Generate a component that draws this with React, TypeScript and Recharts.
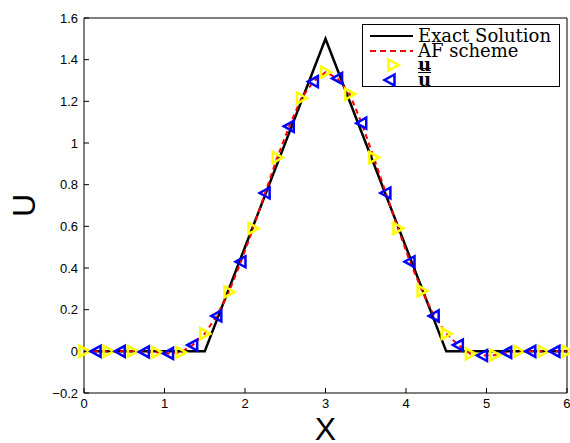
import { ComposedChart, Line, Scatter, XAxis, YAxis, Legend } from "recharts";

// exact solution: hat function
const exactX = [0, 1.5, 3, 4.5, 6];
const exactU = [0, 0, 1.5, 0, 0];

// u (yellow, right triangles) sampled at 0, 0.3, ..., 6
const uX = [0, 0.3, 0.6, 0.9, 1.2, 1.5, 1.8, 2.1, 2.4, 2.7, 3.0, 3.3, 3.6, 3.9, 4.2, 4.5, 4.8, 5.1, 5.4, 5.7, 6.0];
const uVals = [0, 0, 0, -0.005, -0.005, 0.085, 0.285, 0.59, 0.93, 1.215, 1.34, 1.235, 0.93, 0.59, 0.29, 0.085, -0.012, -0.018, 0, 0, 0];

// u-bar (blue, left triangles) sampled at 0.15, 0.45, ..., 5.85
const ubarX = [0.15, 0.45, 0.75, 1.05, 1.35, 1.65, 1.95, 2.25, 2.55, 2.85, 3.15, 3.45, 3.75, 4.05, 4.35, 4.65, 4.95, 5.25, 5.55, 5.85];
const ubarVals = [0, 0, -0.003, -0.01, 0.03, 0.17, 0.43, 0.76, 1.08, 1.295, 1.31, 1.095, 0.76, 0.43, 0.17, 0.03, -0.02, -0.005, 0, 0];

const xTicks = [0, 1, 2, 3, 4, 5, 6];
const yTicks = [-0.2, 0, 0.2, 0.4, 0.6, 0.8, 1, 1.2, 1.4, 1.6];

const exactData = exactX.map((x, i) => ({ x, u: exactU[i] }));
const uData = uX.map((x, i) => ({ x, u: uVals[i] }));
const ubarData = ubarX.map((x, i) => ({ x, u: ubarVals[i] }));
// AF scheme curve runs through both sets of samples
const afData = [...uData, ...ubarData].sort((a, b) => a.x - b.x);

const tickFont = { fontSize: 13, fontFamily: "Liberation Sans, Arial", fill: "#000" };
const fmt = (v: number) => String(v).replace("-", "\u2212");

const RightTri = (props: any) => {
  const { cx, cy } = props;
  return (
    <polygon
      points={`${cx - 4.5},${cy - 5.5} ${cx - 4.5},${cy + 5.5} ${cx + 5.5},${cy}`}
      fill="none"
      stroke="#ffff00"
      strokeWidth={2.5}
    />
  );
};

const LeftTri = (props: any) => {
  const { cx, cy } = props;
  return (
    <polygon
      points={`${cx + 4.5},${cy - 5.5} ${cx + 4.5},${cy + 5.5} ${cx - 5.5},${cy}`}
      fill="none"
      stroke="#0000ff"
      strokeWidth={2.5}
    />
  );
};

const Empty = () => <g />;

const renderLegend = () => {
  const rowTops = [3, 18, 32, 47];
  const text = { fontFamily: "DejaVu Serif, serif", fontSize: 18, lineHeight: "15px", color: "#000" };
  return (
    <div
      style={{
        position: "relative",
        width: 198,
        height: 63,
        border: "1px solid #000",
        background: "#fff",
        boxSizing: "border-box",
      }}
    >
      <div style={{ position: "absolute", top: rowTops[0], left: 0, height: 15, display: "flex", alignItems: "center" }}>
        <svg width={55} height={15}>
          <line x1={7} x2={50} y1={8} y2={8} stroke="#000" strokeWidth={2} />
        </svg>
        <span style={text}>Exact Solution</span>
      </div>
      <div style={{ position: "absolute", top: rowTops[1], left: 0, height: 15, display: "flex", alignItems: "center" }}>
        <svg width={55} height={15}>
          <line x1={7} x2={50} y1={8} y2={8} stroke="#ff0000" strokeWidth={2} strokeDasharray="6 4" />
        </svg>
        <span style={text}>AF scheme</span>
      </div>
      <div style={{ position: "absolute", top: rowTops[2], left: 0, height: 15, display: "flex", alignItems: "center" }}>
        <svg width={55} height={15}>
          <RightTri cx={30} cy={8} />
        </svg>
        <span style={{ ...text, fontWeight: "bold", textDecoration: "underline" }}>u</span>
      </div>
      <div style={{ position: "absolute", top: rowTops[3], left: 0, height: 15, display: "flex", alignItems: "center" }}>
        <svg width={55} height={15}>
          <LeftTri cx={27} cy={8} />
        </svg>
        <span style={{ ...text, fontWeight: "bold", textDecoration: "overline" }}>u</span>
      </div>
    </div>
  );
};

export default function App() {
  return (
    <div style={{ position: "absolute", left: 0, top: 0, background: "#fff" }}>
      <ComposedChart width={570} height={443} margin={{ top: 17, right: 2, bottom: 0, left: 0 }}>
        <XAxis
          dataKey="x"
          type="number"
          domain={[0, 6]}
          ticks={xTicks}
          height={50}
          tickSize={-5}
          tickMargin={11}
          tick={tickFont}
          stroke="#000"
          axisLine={{ stroke: "#000" }}
          tickLine={{ stroke: "#000" }}
          label={{ value: "X", position: "center", dy: 11, fontSize: 32, fontFamily: "Liberation Sans, Arial", fill: "#000" }}
        />
        <XAxis
          xAxisId="top"
          orientation="top"
          dataKey="x"
          type="number"
          domain={[0, 6]}
          ticks={xTicks}
          height={1}
          tickSize={-5}
          tick={<Empty />}
          axisLine={{ stroke: "#000" }}
          tickLine={{ stroke: "#000" }}
        />
        <YAxis
          type="number"
          domain={[-0.2, 1.6]}
          ticks={yTicks}
          width={84}
          tickSize={-5}
          tickMargin={11}
          tick={tickFont}
          tickFormatter={fmt}
          axisLine={{ stroke: "#000" }}
          tickLine={{ stroke: "#000" }}
          label={{ value: "U", angle: -90, position: "center", dx: -18, fontSize: 32, fontFamily: "Liberation Sans, Arial", fill: "#000" }}
        />
        <YAxis
          yAxisId="right"
          orientation="right"
          type="number"
          domain={[-0.2, 1.6]}
          ticks={yTicks}
          width={1}
          tickSize={-5}
          tick={<Empty />}
          axisLine={{ stroke: "#000" }}
          tickLine={{ stroke: "#000" }}
        />
        <Legend
          layout="vertical"
          align="center"
          verticalAlign="middle"
          content={renderLegend}
          wrapperStyle={{ left: 362, top: 24, width: 198 }}
        />
        <Line
          data={exactData}
          dataKey="u"
          name="Exact Solution"
          stroke="#000"
          strokeWidth={2.5}
          dot={false}
          activeDot={false}
          isAnimationActive={false}
        />
        <Line
          data={afData}
          dataKey="u"
          name="AF scheme"
          stroke="#ff0000"
          strokeWidth={2}
          strokeDasharray="5 4"
          dot={false}
          activeDot={false}
          isAnimationActive={false}
        />
        <Scatter data={uData} dataKey="u" name="u" shape={RightTri} isAnimationActive={false} />
        <Scatter data={ubarData} dataKey="u" name="ubar" shape={LeftTri} isAnimationActive={false} />
      </ComposedChart>
    </div>
  );
}
